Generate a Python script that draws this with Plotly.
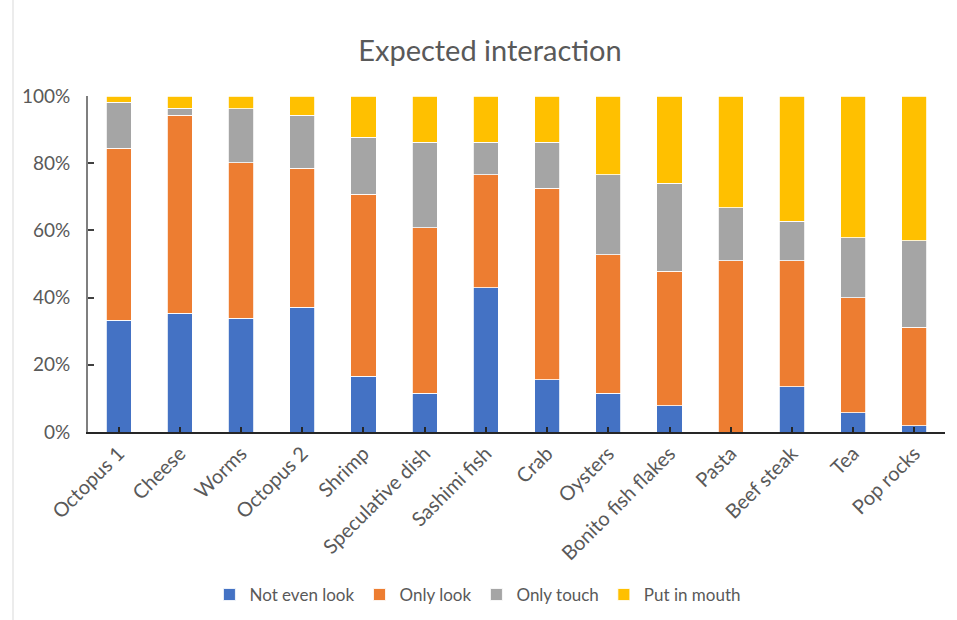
import plotly.graph_objects as go

categories = ["Octopus 1", "Cheese", "Worms", "Octopus 2", "Shrimp", "Speculative dish",
              "Sashimi fish", "Crab", "Oysters", "Bonito fish flakes", "Pasta", "Beef steak",
              "Tea", "Pop rocks"]
not_even_look = [33.3, 35.3, 33.8, 37.1, 16.6, 11.5, 43.0, 15.6, 11.5, 7.8, 0.0, 13.5, 5.8, 1.8]
only_look = [51.1, 58.9, 46.4, 41.4, 54.2, 49.3, 33.6, 56.9, 41.3, 40.0, 51.0, 37.5, 34.2, 29.4]
only_touch = [13.7, 2.1, 16.0, 15.7, 16.9, 25.5, 9.7, 13.8, 23.8, 26.2, 15.7, 11.7, 17.8, 25.7]
put_in_mouth = [1.9, 3.7, 3.8, 5.8, 12.3, 13.7, 13.7, 13.7, 23.4, 26.0, 33.3, 37.3, 42.2, 43.1]
y_tick_vals = [0, 20, 40, 60, 80, 100]
y_tick_text = ["0%", "20%", "40%", "60%", "80%", "100%"]

series = [
    ("Not even look", not_even_look, "#4472C4"),
    ("Only look", only_look, "#ED7D31"),
    ("Only touch", only_touch, "#A5A5A5"),
    ("Put in mouth", put_in_mouth, "#FFC000"),
]

FONT = "Lato"
TXT = "#595959"

fig = go.Figure()
for name, vals, col in series:
    fig.add_trace(go.Bar(
        x=categories, y=vals, name=name,
        marker=dict(color=col, line=dict(color="white", width=0.8)),
    ))

fig.update_layout(
    barmode="stack",
    barnorm="percent",
    bargap=0.59,
    width=957, height=620,
    margin=dict(l=88, r=12, t=96, b=188, autoexpand=False),
    paper_bgcolor="white", plot_bgcolor="white",
    font=dict(family=FONT, color=TXT, size=17),
    title=dict(text="Expected interaction", x=0.512, xanchor="center",
               y=1 - 51 / 620, yanchor="middle",
               font=dict(family=FONT, size=29, color=TXT)),
    legend=dict(orientation="h", x=0.455, xanchor="center", y=-0.485, yanchor="middle",
                font=dict(family=FONT, size=17, color=TXT), traceorder="normal",
                itemwidth=30),
    xaxis=dict(showgrid=False, showline=True, linecolor="#262626", linewidth=2,
               ticks="inside", ticklen=5, tickcolor="#262626", tickwidth=2,
               tickangle=-45, tickfont=dict(family=FONT, size=20, color=TXT),
               range=[-0.5, 13.5], automargin=False),
    yaxis=dict(showgrid=False, showline=True, linecolor="#7f7f7f", linewidth=2,
               ticks="inside", ticklen=6, tickcolor="#404040", tickwidth=2,
               range=[0, 100], tickvals=y_tick_vals, ticktext=y_tick_text,
               ticklabelstandoff=12, automargin=False,
               tickfont=dict(family=FONT, size=19, color=TXT), zeroline=False),
    shapes=[dict(type="line", xref="paper", yref="paper",
                 x0=-75 / 857, x1=-75 / 857, y0=-188 / 336, y1=(620 - 96) / 336 + 0.0,
                 line=dict(color="#d9d9d9", width=1))],
)

fig.write_html("out.html")
